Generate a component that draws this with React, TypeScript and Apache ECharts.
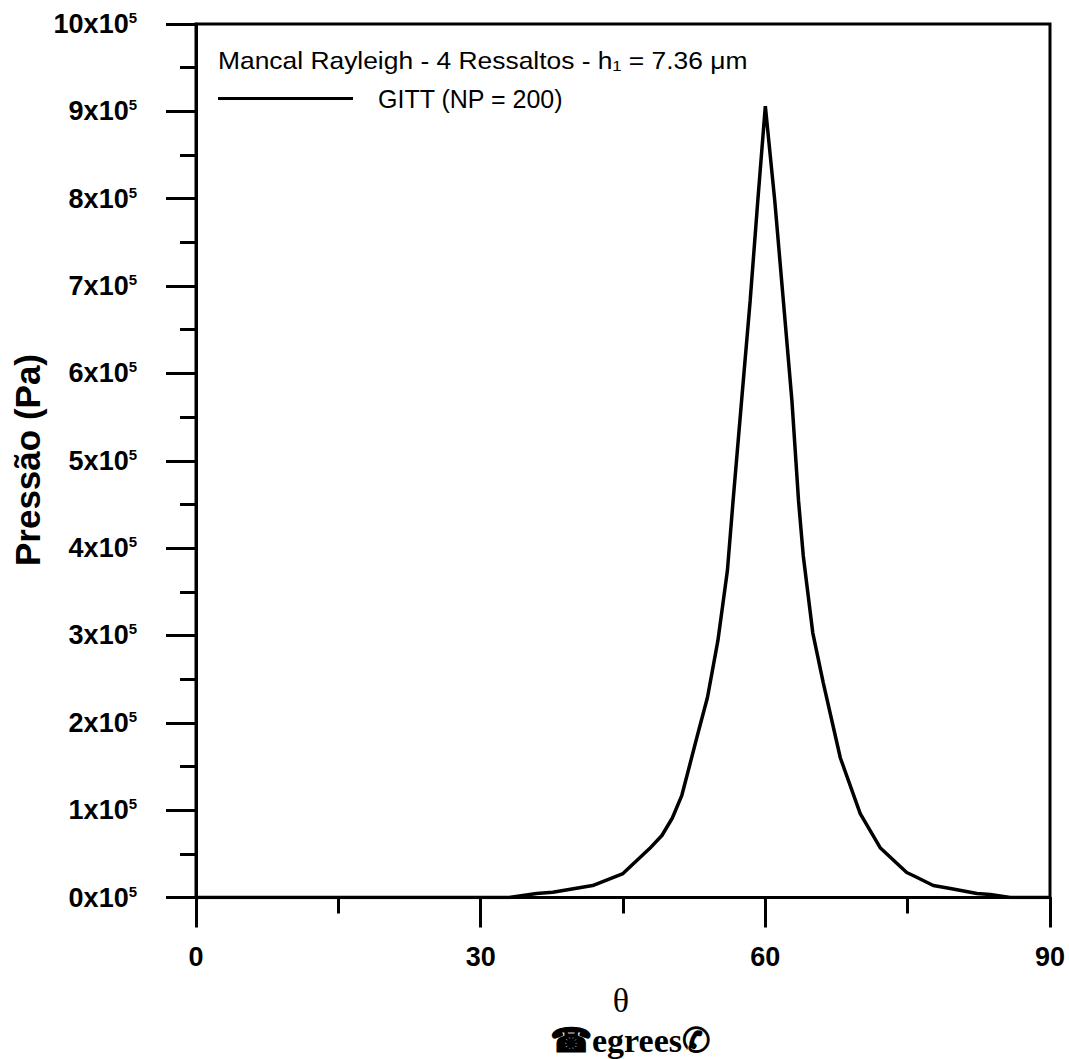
import React, { useEffect, useRef } from "react";
import * as echarts from "echarts";

// theta (degrees)
const thetaDeg = [
  0, 30, 33.0, 35.9, 37.6, 41.8, 45.0, 47.8, 49.1, 50.2, 51.2, 51.8, 52.9, 53.9, 55.0, 56.0,
  56.6, 57.5, 58.4, 59.2, 60.0, 61.0, 61.9, 62.8, 63.5, 64.0, 65.0, 66.1, 67.9, 70.0, 72.1,
  74.9, 76.0, 77.7, 79.5, 82.3, 83.7, 85.8, 90,
];
// pressure (Pa)
const pressurePa = [
  0, 0, 0, 4600, 6000, 13700, 27400, 56000, 71000, 91000, 117000, 142000, 188000, 229000,
  294000, 374000, 454000, 569000, 683000, 797000, 906000, 797000, 683000, 569000, 454000,
  391000, 303000, 246000, 160000, 96000, 57000, 28600, 22900, 13700, 10300, 4600, 3400, 0, 0,
];
const seriesName = "GITT (NP = 200)";
const headerText = "Mancal Rayleigh - 4 Ressaltos - h\u2081 = 7.36 \u03bcm";
const yTitle = "Pressão (Pa)";
const xTitleSymbol = "θ";
const xTitleUnit = "☎egrees✆";

const SANS = "'Liberation Sans', Arial, Helvetica, sans-serif";
const SERIF = "'Liberation Serif', 'Times New Roman', 'DejaVu Serif', serif";

export default function App() {
  const ref = useRef<HTMLDivElement>(null);
  useEffect(() => {
    if (!ref.current) return;
    const chart = echarts.init(ref.current, null, { renderer: "svg" });
    const data = thetaDeg.map((t, i) => [t, pressurePa[i]]);
    chart.setOption({
      animation: false,
      backgroundColor: "#fff",
      grid: {
        left: 196,
        right: 19,
        top: 24,
        bottom: 161.5,
        show: true,
        borderColor: "#000",
        borderWidth: 3,
        backgroundColor: "transparent",
      },
      legend: {
        left: 218,
        top: 86,
        padding: 0,
        itemWidth: 135,
        itemHeight: 3,
        icon: "rect",
        itemStyle: { color: "#000" },
        data: [seriesName],
        textStyle: { fontSize: 25, fontFamily: SANS, color: "#000", padding: [0, 0, 0, 20] },
      },
      xAxis: {
        type: "value",
        min: 0,
        max: 90,
        interval: 30,
        axisLine: { lineStyle: { color: "#000", width: 3 } },
        axisTick: { show: true, inside: false, length: 30, lineStyle: { color: "#000", width: 3 } },
        minorTick: { show: true, splitNumber: 2, length: 16, lineStyle: { color: "#000", width: 3 } },
        splitLine: { show: false },
        axisLabel: {
          margin: 46,
          fontSize: 27,
          fontWeight: "bold",
          fontFamily: SANS,
          color: "#000",
        },
      },
      yAxis: {
        type: "value",
        min: 0,
        max: 1000000,
        interval: 100000,
        axisLine: { lineStyle: { color: "#000", width: 3 } },
        axisTick: { show: true, inside: false, length: 30, lineStyle: { color: "#000", width: 3 } },
        minorTick: { show: true, splitNumber: 2, length: 16, lineStyle: { color: "#000", width: 3 } },
        splitLine: { show: false },
        axisLabel: {
          margin: 59,
          formatter: (v: number) => `{a|${Math.round(v / 100000)}x10}{s|5}`,
          rich: {
            a: { fontSize: 27, fontWeight: "bold", fontFamily: SANS, color: "#000", lineHeight: 28 },
            s: {
              fontSize: 15,
              fontWeight: "bold",
              fontFamily: SANS,
              color: "#000",
              lineHeight: 15,
              verticalAlign: "top",
            },
          },
        },
      },
      series: [
        {
          name: seriesName,
          type: "line",
          data,
          symbol: "none",
          smooth: false,
          color: "#000",
          lineStyle: { color: "#000", width: 3.5 },
        },
      ],
      graphic: [
        {
          type: "text",
          x: 218,
          y: 60,
          scaleX: 1.1,
          style: {
            text: headerText,
            font: `24px ${SANS}`,
            fill: "#000",
            align: "left",
            verticalAlign: "middle",
          },
        },
        {
          type: "text",
          x: 27,
          y: 460,
          rotation: Math.PI / 2,
          style: {
            text: yTitle,
            font: `bold 35px ${SANS}`,
            fill: "#000",
            align: "center",
            verticalAlign: "middle",
          },
        },
        {
          type: "text",
          x: 621,
          y: 1000,
          style: {
            text: xTitleSymbol,
            font: `34px ${SERIF}`,
            fill: "#000",
            align: "center",
            verticalAlign: "middle",
          },
        },
        {
          type: "text",
          x: 630,
          y: 1040,
          style: {
            text: xTitleUnit,
            font: `bold 34px ${SERIF}`,
            fill: "#000",
            align: "center",
            verticalAlign: "middle",
          },
        },
      ],
    });
    return () => chart.dispose();
  }, []);
  return (
    <div
      ref={ref}
      style={{ position: "fixed", left: 0, top: 0, width: 1069, height: 1059, background: "#fff" }}
    />
  );
}
